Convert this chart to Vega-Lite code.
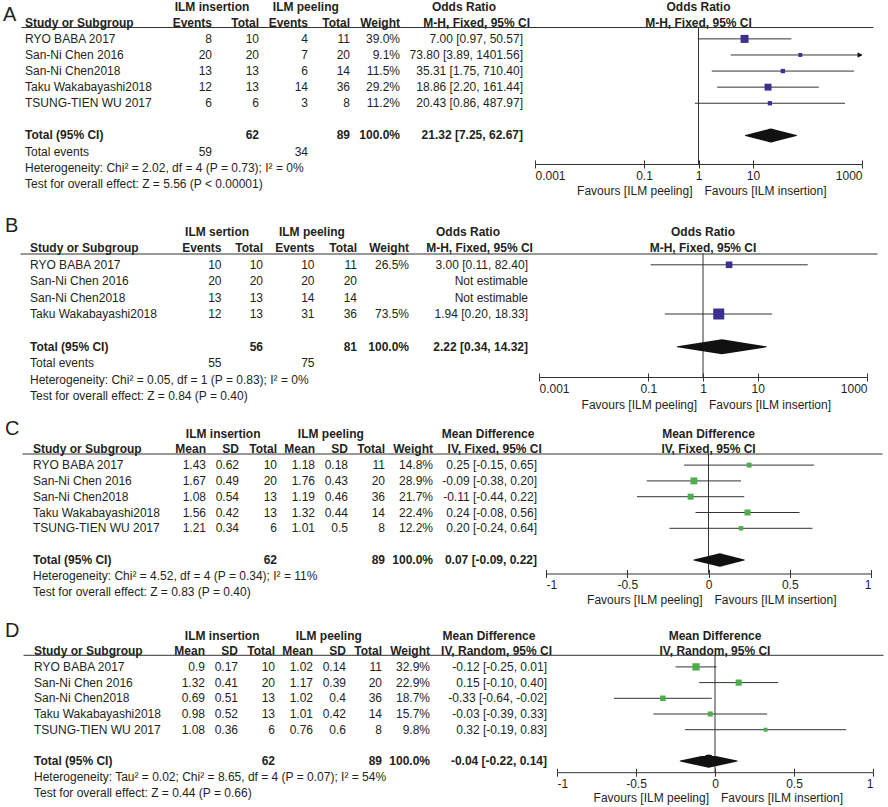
{
"$schema": "https://vega.github.io/schema/vega-lite/v6.json",
"padding": {"left": 0, "top": 0, "right": 0, "bottom": 8},
"background": "white",
"config": {
 "view": {"stroke": null},
 "text": {"font": "Liberation Sans", "fontSize": 12, "baseline": "middle", "color": "#231f20"},
 "axis": {"grid": false, "labelFont": "Liberation Sans", "labelFontSize": 12, "labelColor": "#231f20", "domainColor": "#333333", "tickColor": "#333333", "domainWidth": 1, "tickWidth": 1},
 "axisY": {"disable": true}
},
"datasets": {
 "A": [
  {"study": "RYO BABA 2017", "e1": 8, "n1": 10, "e2": 4, "n2": 11, "weight": 0.39, "est": 7.00, "lo": 0.97, "hi": 50.57, "ci": "7.00 [0.97, 50.57]"},
  {"study": "San-Ni Chen 2016", "e1": 20, "n1": 20, "e2": 7, "n2": 20, "weight": 0.091, "est": 73.80, "lo": 3.89, "hi": 1401.56, "ci": "73.80 [3.89, 1401.56]"},
  {"study": "San-Ni Chen2018", "e1": 13, "n1": 13, "e2": 6, "n2": 14, "weight": 0.115, "est": 35.31, "lo": 1.75, "hi": 710.40, "ci": "35.31 [1.75, 710.40]"},
  {"study": "Taku Wakabayashi2018", "e1": 12, "n1": 13, "e2": 14, "n2": 36, "weight": 0.292, "est": 18.86, "lo": 2.20, "hi": 161.44, "ci": "18.86 [2.20, 161.44]"},
  {"study": "TSUNG-TIEN WU 2017", "e1": 6, "n1": 6, "e2": 3, "n2": 8, "weight": 0.112, "est": 20.43, "lo": 0.86, "hi": 487.97, "ci": "20.43 [0.86, 487.97]"},
  {"study": "Total (95% CI)", "n1": 62, "n2": 89, "weight": 1.0, "est": 21.32, "lo": 7.25, "hi": 62.67, "ci": "21.32 [7.25, 62.67]"},
  {"study": "Total events", "e1": 59, "e2": 34},
  {"study": "Heterogeneity: Chi² = 2.02, df = 4 (P = 0.73); I² = 0%"},
  {"study": "Test for overall effect: Z = 5.56 (P < 0.00001)"}
 ],
 "B": [
  {"study": "RYO BABA 2017", "e1": 10, "n1": 10, "e2": 10, "n2": 11, "weight": 0.265, "est": 3.00, "lo": 0.11, "hi": 82.40, "ci": "3.00 [0.11, 82.40]"},
  {"study": "San-Ni Chen 2016", "e1": 20, "n1": 20, "e2": 20, "n2": 20, "ci": "Not estimable"},
  {"study": "San-Ni Chen2018", "e1": 13, "n1": 13, "e2": 14, "n2": 14, "ci": "Not estimable"},
  {"study": "Taku Wakabayashi2018", "e1": 12, "n1": 13, "e2": 31, "n2": 36, "weight": 0.735, "est": 1.94, "lo": 0.20, "hi": 18.33, "ci": "1.94 [0.20, 18.33]"},
  {"study": "Total (95% CI)", "n1": 56, "n2": 81, "weight": 1.0, "est": 2.22, "lo": 0.34, "hi": 14.32, "ci": "2.22 [0.34, 14.32]"},
  {"study": "Total events", "e1": 55, "e2": 75},
  {"study": "Heterogeneity: Chi² = 0.05, df = 1 (P = 0.83); I² = 0%"},
  {"study": "Test for overall effect: Z = 0.84 (P = 0.40)"}
 ],
 "C": [
  {"study": "RYO BABA 2017", "m1": 1.43, "sd1": 0.62, "n1": 10, "m2": 1.18, "sd2": 0.18, "n2": 11, "weight": 0.148, "est": 0.25, "lo": -0.15, "hi": 0.65, "ci": "0.25 [-0.15, 0.65]"},
  {"study": "San-Ni Chen 2016", "m1": 1.67, "sd1": 0.49, "n1": 20, "m2": 1.76, "sd2": 0.43, "n2": 20, "weight": 0.289, "est": -0.09, "lo": -0.38, "hi": 0.20, "ci": "-0.09 [-0.38, 0.20]"},
  {"study": "San-Ni Chen2018", "m1": 1.08, "sd1": 0.54, "n1": 13, "m2": 1.19, "sd2": 0.46, "n2": 36, "weight": 0.217, "est": -0.11, "lo": -0.44, "hi": 0.22, "ci": "-0.11 [-0.44, 0.22]"},
  {"study": "Taku Wakabayashi2018", "m1": 1.56, "sd1": 0.42, "n1": 13, "m2": 1.32, "sd2": 0.44, "n2": 14, "weight": 0.224, "est": 0.24, "lo": -0.08, "hi": 0.56, "ci": "0.24 [-0.08, 0.56]"},
  {"study": "TSUNG-TIEN WU 2017", "m1": 1.21, "sd1": 0.34, "n1": 6, "m2": 1.01, "sd2": 0.5, "n2": 8, "weight": 0.122, "est": 0.20, "lo": -0.24, "hi": 0.64, "ci": "0.20 [-0.24, 0.64]"},
  {"study": "Total (95% CI)", "n1": 62, "n2": 89, "weight": 1.0, "est": 0.07, "lo": -0.09, "hi": 0.22, "ci": "0.07 [-0.09, 0.22]"},
  {"study": "Heterogeneity: Chi² = 4.52, df = 4 (P = 0.34); I² = 11%"},
  {"study": "Test for overall effect: Z = 0.83 (P = 0.40)"}
 ],
 "D": [
  {"study": "RYO BABA 2017", "m1": 0.9, "sd1": 0.17, "n1": 10, "m2": 1.02, "sd2": 0.14, "n2": 11, "weight": 0.329, "est": -0.12, "lo": -0.25, "hi": 0.01, "ci": "-0.12 [-0.25, 0.01]"},
  {"study": "San-Ni Chen 2016", "m1": 1.32, "sd1": 0.41, "n1": 20, "m2": 1.17, "sd2": 0.39, "n2": 20, "weight": 0.229, "est": 0.15, "lo": -0.10, "hi": 0.40, "ci": "0.15 [-0.10, 0.40]"},
  {"study": "San-Ni Chen2018", "m1": 0.69, "sd1": 0.51, "n1": 13, "m2": 1.02, "sd2": 0.4, "n2": 36, "weight": 0.187, "est": -0.33, "lo": -0.64, "hi": -0.02, "ci": "-0.33 [-0.64, -0.02]"},
  {"study": "Taku Wakabayashi2018", "m1": 0.98, "sd1": 0.52, "n1": 13, "m2": 1.01, "sd2": 0.42, "n2": 14, "weight": 0.157, "est": -0.03, "lo": -0.39, "hi": 0.33, "ci": "-0.03 [-0.39, 0.33]"},
  {"study": "TSUNG-TIEN WU 2017", "m1": 1.08, "sd1": 0.36, "n1": 6, "m2": 0.76, "sd2": 0.6, "n2": 8, "weight": 0.098, "est": 0.32, "lo": -0.19, "hi": 0.83, "ci": "0.32 [-0.19, 0.83]"},
  {"study": "Total (95% CI)", "n1": 62, "n2": 89, "weight": 1.0, "est": -0.04, "lo": -0.22, "hi": 0.14, "ci": "-0.04 [-0.22, 0.14]"},
  {"study": "Heterogeneity: Tau² = 0.02; Chi² = 8.65, df = 4 (P = 0.07); I² = 54%"},
  {"study": "Test for overall effect: Z = 0.44 (P = 0.66)"}
 ]
},
"spacing": 89.5,
"bounds": "flush",
"vconcat": [
{
 "width": 888, "height": 137,
 "data": {"name": "A"},
 "resolve": {"scale": {"x": "independent"}},
 "layer": [
  {"layer": [
   {"mark": {"type": "text", "align": "left", "fontWeight": {"expr": "datum.study === 'Total (95% CI)' ? 'bold' : 'normal'"}},
    "encoding": {
     "x": {"datum": 0, "type": "quantitative", "scale": {"domain": [-1, 0, 1, 2, 3, 4, 5, 6, 7], "range": [21, 25, 212, 259, 308, 350, 400, 523, 873], "nice": false, "zero": false}, "axis": {"orient": "top", "labels": false, "ticks": false, "title": null}},
     "y": {"field": "study", "type": "nominal", "scale": {"type": "point", "domain": ["h1", "h2", "RYO BABA 2017", "San-Ni Chen 2016", "San-Ni Chen2018", "Taku Wakabayashi2018", "TSUNG-TIEN WU 2017", "gap", "Total (95% CI)", "Total events", "Heterogeneity: Chi² = 2.02, df = 4 (P = 0.73); I² = 0%", "Test for overall effect: Z = 5.56 (P < 0.00001)"], "range": [-20.3, 156.7], "padding": 0}},
     "text": {"field": "study", "type": "nominal"}}},
   {"transform": [{"filter": {"field": "e1", "valid": true}}], "mark": {"type": "text", "align": "right"}, "encoding": {"x": {"datum": 1, "type": "quantitative"}, "y": {"field": "study", "type": "nominal"}, "text": {"field": "e1", "type": "quantitative"}}},
   {"transform": [{"filter": {"field": "n1", "valid": true}}], "mark": {"type": "text", "align": "right", "fontWeight": {"expr": "datum.study === 'Total (95% CI)' ? 'bold' : 'normal'"}}, "encoding": {"x": {"datum": 2, "type": "quantitative"}, "y": {"field": "study", "type": "nominal"}, "text": {"field": "n1", "type": "quantitative"}}},
   {"transform": [{"filter": {"field": "e2", "valid": true}}], "mark": {"type": "text", "align": "right"}, "encoding": {"x": {"datum": 3, "type": "quantitative"}, "y": {"field": "study", "type": "nominal"}, "text": {"field": "e2", "type": "quantitative"}}},
   {"transform": [{"filter": {"field": "n2", "valid": true}}], "mark": {"type": "text", "align": "right", "fontWeight": {"expr": "datum.study === 'Total (95% CI)' ? 'bold' : 'normal'"}}, "encoding": {"x": {"datum": 4, "type": "quantitative"}, "y": {"field": "study", "type": "nominal"}, "text": {"field": "n2", "type": "quantitative"}}},
   {"transform": [{"filter": {"field": "weight", "valid": true}}], "mark": {"type": "text", "align": "right", "fontWeight": {"expr": "datum.study === 'Total (95% CI)' ? 'bold' : 'normal'"}}, "encoding": {"x": {"datum": 5, "type": "quantitative"}, "y": {"field": "study", "type": "nominal"}, "text": {"field": "weight", "type": "quantitative", "format": ".1%"}}},
   {"transform": [{"filter": "isValid(datum.ci)"}], "mark": {"type": "text", "align": "right", "fontWeight": {"expr": "datum.study === 'Total (95% CI)' ? 'bold' : 'normal'"}}, "encoding": {"x": {"datum": 6, "type": "quantitative"}, "y": {"field": "study", "type": "nominal"}, "text": {"field": "ci", "type": "nominal"}}},
   {"data": {"values": [{}]}, "mark": {"type": "text", "text": "A", "align": "left", "font": "Liberation Sans Narrow, Liberation Sans", "fontSize": 20, "dx": -18, "dy": 7.8}, "encoding": {"x": {"datum": -1, "type": "quantitative"}, "y": {"datum": "h1", "type": "nominal"}}},
   {"data": {"values": [{}]}, "mark": {"type": "text", "text": "ILM insertion", "fontWeight": "bold", "align": "center"}, "encoding": {"x": {"datum": 1, "type": "quantitative"}, "y": {"datum": "h1", "type": "nominal"}}},
   {"data": {"values": [{}]}, "mark": {"type": "text", "text": "ILM peeling", "fontWeight": "bold", "align": "center"}, "encoding": {"x": {"datum": 2.955, "type": "quantitative"}, "y": {"datum": "h1", "type": "nominal"}}},
   {"data": {"values": [{}]}, "mark": {"type": "text", "text": "Odds Ratio", "fontWeight": "bold", "align": "center"}, "encoding": {"x": {"datum": 5.52, "type": "quantitative"}, "y": {"datum": "h1", "type": "nominal"}}},
   {"data": {"values": [{}]}, "mark": {"type": "text", "text": "Study or Subgroup", "fontWeight": "bold", "align": "left"}, "encoding": {"x": {"datum": 0, "type": "quantitative"}, "y": {"datum": "h2", "type": "nominal"}}},
   {"data": {"values": [{}]}, "mark": {"type": "text", "text": "Events", "fontWeight": "bold", "align": "right"}, "encoding": {"x": {"datum": 1, "type": "quantitative"}, "y": {"datum": "h2", "type": "nominal"}}},
   {"data": {"values": [{}]}, "mark": {"type": "text", "text": "Total", "fontWeight": "bold", "align": "right"}, "encoding": {"x": {"datum": 2, "type": "quantitative"}, "y": {"datum": "h2", "type": "nominal"}}},
   {"data": {"values": [{}]}, "mark": {"type": "text", "text": "Events", "fontWeight": "bold", "align": "right"}, "encoding": {"x": {"datum": 3, "type": "quantitative"}, "y": {"datum": "h2", "type": "nominal"}}},
   {"data": {"values": [{}]}, "mark": {"type": "text", "text": "Total", "fontWeight": "bold", "align": "right"}, "encoding": {"x": {"datum": 4, "type": "quantitative"}, "y": {"datum": "h2", "type": "nominal"}}},
   {"data": {"values": [{}]}, "mark": {"type": "text", "text": "Weight", "fontWeight": "bold", "align": "right"}, "encoding": {"x": {"datum": 5, "type": "quantitative"}, "y": {"datum": "h2", "type": "nominal"}}},
   {"data": {"values": [{}]}, "mark": {"type": "text", "text": "M-H, Fixed, 95% CI", "fontWeight": "bold", "align": "right"}, "encoding": {"x": {"datum": 6.02, "type": "quantitative"}, "y": {"datum": "h2", "type": "nominal"}}}
  ]},
  {"layer": [
   {"transform": [{"filter": "datum.study === 'Total (95% CI)'"}], "mark": {"type": "rule", "color": "#333333", "strokeWidth": 1}, "encoding": {"x": {"datum": 1, "type": "quantitative", "scale": {"type": "log", "domain": [0.001, 1000], "range": [535, 862], "clamp": true, "nice": false}, "axis": {"orient": "bottom", "values": [0.001, 0.1, 1, 10, 1000], "labelExpr": "'' + datum.value", "labelFlush": true, "tickSize": 4, "labelPadding": 2, "title": null}}}},
   {"transform": [{"filter": "isValid(datum.est) && datum.study !== 'Total (95% CI)'"}], "mark": {"type": "rule", "color": "#333333", "strokeWidth": 1}, "encoding": {"x": {"field": "lo", "type": "quantitative"}, "x2": {"field": "hi"}, "y": {"field": "study", "type": "nominal"}}},
   {"transform": [{"filter": "isValid(datum.est) && datum.study !== 'Total (95% CI)'"}], "mark": {"type": "point", "shape": "square", "filled": true, "color": "#3b2f8f", "opacity": 1}, "encoding": {"x": {"field": "est", "type": "quantitative"}, "y": {"field": "study", "type": "nominal"}, "size": {"field": "weight", "type": "quantitative", "scale": {"domain": [0, 1], "range": [0, 164]}, "legend": null}}},
   {"transform": [{"filter": "datum.hi > 1000"}], "mark": {"type": "point", "shape": "triangle-right", "filled": true, "color": "#111111", "opacity": 1, "size": 30, "xOffset": -2}, "encoding": {"x": {"field": "hi", "type": "quantitative"}, "y": {"field": "study", "type": "nominal"}}},
   {"transform": [{"filter": "datum.study === 'Total (95% CI)'"}, {"fold": ["lo", "est", "hi"]}], "mark": {"type": "trail", "color": "#111111"}, "encoding": {"x": {"field": "value", "type": "quantitative"}, "y": {"field": "study", "type": "nominal"}, "order": {"field": "value", "type": "quantitative"}, "size": {"condition": {"test": "datum.key === 'est'", "value": 14}, "value": 0}}},
   {"data": {"values": [{}]}, "mark": {"type": "text", "text": "Odds Ratio", "fontWeight": "bold", "align": "center"}, "encoding": {"x": {"datum": 1, "type": "quantitative"}, "y": {"datum": "h1", "type": "nominal"}}},
   {"data": {"values": [{}]}, "mark": {"type": "text", "text": "M-H, Fixed, 95% CI", "fontWeight": "bold", "align": "center"}, "encoding": {"x": {"datum": 1, "type": "quantitative"}, "y": {"datum": "h2", "type": "nominal"}}}
  ]},
  {"data": {"values": [{}]}, "layer": [
   {"mark": {"type": "text", "text": "Favours [ILM peeling]", "align": "right", "dx": -6, "dy": 7.3}, "encoding": {"x": {"datum": 1, "type": "quantitative", "scale": {"type": "log", "domain": [0.001, 1000], "range": [535, 862], "nice": false}, "axis": {"orient": "bottom", "values": [0.001, 0.1, 1, 10, 1000], "labels": false, "domain": false, "tickSize": -4, "title": null}}, "y": {"datum": "Test for overall effect: Z = 5.56 (P < 0.00001)", "type": "nominal"}}},
   {"mark": {"type": "text", "text": "Favours [ILM insertion]", "align": "left", "dx": 6, "dy": 7.3}, "encoding": {"x": {"datum": 1, "type": "quantitative"}, "y": {"datum": "Test for overall effect: Z = 5.56 (P < 0.00001)", "type": "nominal"}}}
  ]}
 ]
},
{
 "spacing": 76,
 "bounds": "flush",
 "vconcat": [
 {
  "width": 888, "height": 123.5,
  "data": {"name": "B"},
  "resolve": {"scale": {"x": "independent"}},
  "layer": [
   {"layer": [
    {"mark": {"type": "text", "align": "left", "fontWeight": {"expr": "datum.study === 'Total (95% CI)' ? 'bold' : 'normal'"}},
     "encoding": {
      "x": {"datum": 0, "type": "quantitative", "scale": {"domain": [-1, 0, 1, 2, 3, 4, 5, 6, 7], "range": [20, 30, 221.5, 263, 314.5, 357, 409, 528, 877], "nice": false, "zero": false}, "axis": {"orient": "top", "labels": false, "ticks": false, "title": null}},
      "y": {"field": "study", "type": "nominal", "scale": {"type": "point", "domain": ["h1", "h2", "RYO BABA 2017", "San-Ni Chen 2016", "San-Ni Chen2018", "Taku Wakabayashi2018", "gap", "Total (95% CI)", "Total events", "Heterogeneity: Chi² = 0.05, df = 1 (P = 0.83); I² = 0%", "Test for overall effect: Z = 0.84 (P = 0.40)"], "range": [-21.5, 142.5], "padding": 0}},
      "text": {"field": "study", "type": "nominal"}}},
    {"transform": [{"filter": {"field": "e1", "valid": true}}], "mark": {"type": "text", "align": "right"}, "encoding": {"x": {"datum": 1, "type": "quantitative"}, "y": {"field": "study", "type": "nominal"}, "text": {"field": "e1", "type": "quantitative"}}},
    {"transform": [{"filter": {"field": "n1", "valid": true}}], "mark": {"type": "text", "align": "right", "fontWeight": {"expr": "datum.study === 'Total (95% CI)' ? 'bold' : 'normal'"}}, "encoding": {"x": {"datum": 2, "type": "quantitative"}, "y": {"field": "study", "type": "nominal"}, "text": {"field": "n1", "type": "quantitative"}}},
    {"transform": [{"filter": {"field": "e2", "valid": true}}], "mark": {"type": "text", "align": "right"}, "encoding": {"x": {"datum": 3, "type": "quantitative"}, "y": {"field": "study", "type": "nominal"}, "text": {"field": "e2", "type": "quantitative"}}},
    {"transform": [{"filter": {"field": "n2", "valid": true}}], "mark": {"type": "text", "align": "right", "fontWeight": {"expr": "datum.study === 'Total (95% CI)' ? 'bold' : 'normal'"}}, "encoding": {"x": {"datum": 4, "type": "quantitative"}, "y": {"field": "study", "type": "nominal"}, "text": {"field": "n2", "type": "quantitative"}}},
    {"transform": [{"filter": {"field": "weight", "valid": true}}], "mark": {"type": "text", "align": "right", "fontWeight": {"expr": "datum.study === 'Total (95% CI)' ? 'bold' : 'normal'"}}, "encoding": {"x": {"datum": 5, "type": "quantitative"}, "y": {"field": "study", "type": "nominal"}, "text": {"field": "weight", "type": "quantitative", "format": ".1%"}}},
    {"transform": [{"filter": "isValid(datum.ci)"}], "mark": {"type": "text", "align": "right", "fontWeight": {"expr": "datum.study === 'Total (95% CI)' ? 'bold' : 'normal'"}}, "encoding": {"x": {"datum": 6, "type": "quantitative"}, "y": {"field": "study", "type": "nominal"}, "text": {"field": "ci", "type": "nominal"}}},
    {"data": {"values": [{}]}, "mark": {"type": "text", "text": "B", "align": "left", "font": "Liberation Sans Narrow, Liberation Sans", "fontSize": 20, "dx": -15, "dy": -6.5}, "encoding": {"x": {"datum": -1, "type": "quantitative"}, "y": {"datum": "h1", "type": "nominal"}}},
    {"data": {"values": [{}]}, "mark": {"type": "text", "text": "ILM sertion", "fontWeight": "bold", "align": "center"}, "encoding": {"x": {"datum": 0.977, "type": "quantitative"}, "y": {"datum": "h1", "type": "nominal"}}},
    {"data": {"values": [{}]}, "mark": {"type": "text", "text": "ILM peeling", "fontWeight": "bold", "align": "center"}, "encoding": {"x": {"datum": 2.95, "type": "quantitative"}, "y": {"datum": "h1", "type": "nominal"}}},
    {"data": {"values": [{}]}, "mark": {"type": "text", "text": "Odds Ratio", "fontWeight": "bold", "align": "center"}, "encoding": {"x": {"datum": 5.496, "type": "quantitative"}, "y": {"datum": "h1", "type": "nominal"}}},
    {"data": {"values": [{}]}, "mark": {"type": "text", "text": "Study or Subgroup", "fontWeight": "bold", "align": "left"}, "encoding": {"x": {"datum": 0, "type": "quantitative"}, "y": {"datum": "h2", "type": "nominal"}}},
    {"data": {"values": [{}]}, "mark": {"type": "text", "text": "Events", "fontWeight": "bold", "align": "right"}, "encoding": {"x": {"datum": 1, "type": "quantitative"}, "y": {"datum": "h2", "type": "nominal"}}},
    {"data": {"values": [{}]}, "mark": {"type": "text", "text": "Total", "fontWeight": "bold", "align": "right"}, "encoding": {"x": {"datum": 2, "type": "quantitative"}, "y": {"datum": "h2", "type": "nominal"}}},
    {"data": {"values": [{}]}, "mark": {"type": "text", "text": "Events", "fontWeight": "bold", "align": "right"}, "encoding": {"x": {"datum": 3, "type": "quantitative"}, "y": {"datum": "h2", "type": "nominal"}}},
    {"data": {"values": [{}]}, "mark": {"type": "text", "text": "Total", "fontWeight": "bold", "align": "right"}, "encoding": {"x": {"datum": 4, "type": "quantitative"}, "y": {"datum": "h2", "type": "nominal"}}},
    {"data": {"values": [{}]}, "mark": {"type": "text", "text": "Weight", "fontWeight": "bold", "align": "right"}, "encoding": {"x": {"datum": 5, "type": "quantitative"}, "y": {"datum": "h2", "type": "nominal"}}},
    {"data": {"values": [{}]}, "mark": {"type": "text", "text": "M-H, Fixed, 95% CI", "fontWeight": "bold", "align": "right"}, "encoding": {"x": {"datum": 6.014, "type": "quantitative"}, "y": {"datum": "h2", "type": "nominal"}}}
   ]},
   {"layer": [
    {"transform": [{"filter": "datum.study === 'Total (95% CI)'"}], "mark": {"type": "rule", "color": "#333333", "strokeWidth": 1}, "encoding": {"x": {"datum": 1, "type": "quantitative", "scale": {"type": "log", "domain": [0.001, 1000], "range": [539, 867], "clamp": true, "nice": false}, "axis": {"orient": "bottom", "values": [0.001, 0.1, 1, 10, 1000], "labelExpr": "'' + datum.value", "labelFlush": true, "tickSize": 4, "labelPadding": 2, "title": null}}}},
    {"transform": [{"filter": "isValid(datum.est) && datum.study !== 'Total (95% CI)'"}], "mark": {"type": "rule", "color": "#333333", "strokeWidth": 1}, "encoding": {"x": {"field": "lo", "type": "quantitative"}, "x2": {"field": "hi"}, "y": {"field": "study", "type": "nominal"}}},
    {"transform": [{"filter": "isValid(datum.est) && datum.study !== 'Total (95% CI)'"}], "mark": {"type": "point", "shape": "square", "filled": true, "color": "#3b2f8f", "opacity": 1}, "encoding": {"x": {"field": "est", "type": "quantitative"}, "y": {"field": "study", "type": "nominal"}, "size": {"field": "weight", "type": "quantitative", "scale": {"domain": [0, 1], "range": [0, 250]}, "legend": null}}},
    {"transform": [{"filter": "datum.study === 'Total (95% CI)'"}, {"fold": ["lo", "est", "hi"]}], "mark": {"type": "trail", "color": "#111111"}, "encoding": {"x": {"field": "value", "type": "quantitative"}, "y": {"field": "study", "type": "nominal"}, "order": {"field": "value", "type": "quantitative"}, "size": {"condition": {"test": "datum.key === 'est'", "value": 15}, "value": 0}}},
    {"data": {"values": [{}]}, "mark": {"type": "text", "text": "Odds Ratio", "fontWeight": "bold", "align": "center"}, "encoding": {"x": {"datum": 1, "type": "quantitative"}, "y": {"datum": "h1", "type": "nominal"}}},
    {"data": {"values": [{}]}, "mark": {"type": "text", "text": "M-H, Fixed, 95% CI", "fontWeight": "bold", "align": "center"}, "encoding": {"x": {"datum": 1, "type": "quantitative"}, "y": {"datum": "h2", "type": "nominal"}}}
   ]},
   {"data": {"values": [{}]}, "layer": [
    {"mark": {"type": "text", "text": "Favours [ILM peeling]", "align": "right", "dx": -6, "dy": 9}, "encoding": {"x": {"datum": 1, "type": "quantitative", "scale": {"type": "log", "domain": [0.001, 1000], "range": [539, 867], "nice": false}, "axis": {"orient": "bottom", "values": [0.001, 0.1, 1, 10, 1000], "labels": false, "domain": false, "tickSize": -4, "title": null}}, "y": {"datum": "Test for overall effect: Z = 0.84 (P = 0.40)", "type": "nominal"}}},
    {"mark": {"type": "text", "text": "Favours [ILM insertion]", "align": "left", "dx": 6, "dy": 9}, "encoding": {"x": {"datum": 1, "type": "quantitative"}, "y": {"datum": "Test for overall effect: Z = 0.84 (P = 0.40)", "type": "nominal"}}}
   ]}
  ]
 },
 {
  "spacing": 81.3,
  "bounds": "flush",
  "vconcat": [
  {
   "width": 888, "height": 120,
   "data": {"name": "C"},
   "resolve": {"scale": {"x": "independent"}},
   "layer": [
    {"layer": [
     {"mark": {"type": "text", "align": "left", "fontWeight": {"expr": "datum.study === 'Total (95% CI)' ? 'bold' : 'normal'"}},
      "encoding": {
       "x": {"datum": 0, "type": "quantitative", "scale": {"domain": [-1, 0, 1, 2, 3, 4, 5, 6, 7, 8, 9], "range": [22, 33, 206, 239, 277, 315, 348, 385, 433, 537, 882], "nice": false, "zero": false}, "axis": {"orient": "top", "labels": false, "ticks": false, "title": null}},
       "y": {"field": "study", "type": "nominal", "scale": {"type": "point", "domain": ["h1", "h2", "RYO BABA 2017", "San-Ni Chen 2016", "San-Ni Chen2018", "Taku Wakabayashi2018", "TSUNG-TIEN WU 2017", "gap", "Total (95% CI)", "Heterogeneity: Chi² = 4.52, df = 4 (P = 0.34); I² = 11%", "Test for overall effect: Z = 0.83 (P = 0.40)"], "range": [-20, 138], "padding": 0}},
       "text": {"field": "study", "type": "nominal"}}},
     {"transform": [{"filter": {"field": "m1", "valid": true}}], "mark": {"type": "text", "align": "right"}, "encoding": {"x": {"datum": 1, "type": "quantitative"}, "y": {"field": "study", "type": "nominal"}, "text": {"field": "m1", "type": "quantitative"}}},
     {"transform": [{"filter": {"field": "sd1", "valid": true}}], "mark": {"type": "text", "align": "right"}, "encoding": {"x": {"datum": 2, "type": "quantitative"}, "y": {"field": "study", "type": "nominal"}, "text": {"field": "sd1", "type": "quantitative"}}},
     {"transform": [{"filter": {"field": "n1", "valid": true}}], "mark": {"type": "text", "align": "right", "fontWeight": {"expr": "datum.study === 'Total (95% CI)' ? 'bold' : 'normal'"}}, "encoding": {"x": {"datum": 3, "type": "quantitative"}, "y": {"field": "study", "type": "nominal"}, "text": {"field": "n1", "type": "quantitative"}}},
     {"transform": [{"filter": {"field": "m2", "valid": true}}], "mark": {"type": "text", "align": "right"}, "encoding": {"x": {"datum": 4, "type": "quantitative"}, "y": {"field": "study", "type": "nominal"}, "text": {"field": "m2", "type": "quantitative"}}},
     {"transform": [{"filter": {"field": "sd2", "valid": true}}], "mark": {"type": "text", "align": "right"}, "encoding": {"x": {"datum": 5, "type": "quantitative"}, "y": {"field": "study", "type": "nominal"}, "text": {"field": "sd2", "type": "quantitative"}}},
     {"transform": [{"filter": {"field": "n2", "valid": true}}], "mark": {"type": "text", "align": "right", "fontWeight": {"expr": "datum.study === 'Total (95% CI)' ? 'bold' : 'normal'"}}, "encoding": {"x": {"datum": 6, "type": "quantitative"}, "y": {"field": "study", "type": "nominal"}, "text": {"field": "n2", "type": "quantitative"}}},
     {"transform": [{"filter": {"field": "weight", "valid": true}}], "mark": {"type": "text", "align": "right", "fontWeight": {"expr": "datum.study === 'Total (95% CI)' ? 'bold' : 'normal'"}}, "encoding": {"x": {"datum": 7, "type": "quantitative"}, "y": {"field": "study", "type": "nominal"}, "text": {"field": "weight", "type": "quantitative", "format": ".1%"}}},
     {"transform": [{"filter": "isValid(datum.ci)"}], "mark": {"type": "text", "align": "right", "fontWeight": {"expr": "datum.study === 'Total (95% CI)' ? 'bold' : 'normal'"}}, "encoding": {"x": {"datum": 8, "type": "quantitative"}, "y": {"field": "study", "type": "nominal"}, "text": {"field": "ci", "type": "nominal"}}},
     {"data": {"values": [{}]}, "mark": {"type": "text", "text": "C", "align": "left", "font": "Liberation Sans Narrow, Liberation Sans", "fontSize": 20, "dx": -17, "dy": -4.5}, "encoding": {"x": {"datum": -1, "type": "quantitative"}, "y": {"datum": "h1", "type": "nominal"}}},
     {"data": {"values": [{}]}, "mark": {"type": "text", "text": "ILM insertion", "fontWeight": "bold", "align": "center"}, "encoding": {"x": {"datum": 1.52, "type": "quantitative"}, "y": {"datum": "h1", "type": "nominal"}}},
     {"data": {"values": [{}]}, "mark": {"type": "text", "text": "ILM peeling", "fontWeight": "bold", "align": "center"}, "encoding": {"x": {"datum": 4.48, "type": "quantitative"}, "y": {"datum": "h1", "type": "nominal"}}},
     {"data": {"values": [{}]}, "mark": {"type": "text", "text": "Mean Difference", "fontWeight": "bold", "align": "center"}, "encoding": {"x": {"datum": 7.53, "type": "quantitative"}, "y": {"datum": "h1", "type": "nominal"}}},
     {"data": {"values": [{}]}, "mark": {"type": "text", "text": "Study or Subgroup", "fontWeight": "bold", "align": "left"}, "encoding": {"x": {"datum": 0, "type": "quantitative"}, "y": {"datum": "h2", "type": "nominal"}}},
     {"data": {"values": [{}]}, "mark": {"type": "text", "text": "Mean", "fontWeight": "bold", "align": "right"}, "encoding": {"x": {"datum": 1, "type": "quantitative"}, "y": {"datum": "h2", "type": "nominal"}}},
     {"data": {"values": [{}]}, "mark": {"type": "text", "text": "SD", "fontWeight": "bold", "align": "right"}, "encoding": {"x": {"datum": 2, "type": "quantitative"}, "y": {"datum": "h2", "type": "nominal"}}},
     {"data": {"values": [{}]}, "mark": {"type": "text", "text": "Total", "fontWeight": "bold", "align": "right"}, "encoding": {"x": {"datum": 3, "type": "quantitative"}, "y": {"datum": "h2", "type": "nominal"}}},
     {"data": {"values": [{}]}, "mark": {"type": "text", "text": "Mean", "fontWeight": "bold", "align": "right"}, "encoding": {"x": {"datum": 4, "type": "quantitative"}, "y": {"datum": "h2", "type": "nominal"}}},
     {"data": {"values": [{}]}, "mark": {"type": "text", "text": "SD", "fontWeight": "bold", "align": "right"}, "encoding": {"x": {"datum": 5, "type": "quantitative"}, "y": {"datum": "h2", "type": "nominal"}}},
     {"data": {"values": [{}]}, "mark": {"type": "text", "text": "Total", "fontWeight": "bold", "align": "right"}, "encoding": {"x": {"datum": 6, "type": "quantitative"}, "y": {"datum": "h2", "type": "nominal"}}},
     {"data": {"values": [{}]}, "mark": {"type": "text", "text": "Weight", "fontWeight": "bold", "align": "right"}, "encoding": {"x": {"datum": 7, "type": "quantitative"}, "y": {"datum": "h2", "type": "nominal"}}},
     {"data": {"values": [{}]}, "mark": {"type": "text", "text": "IV, Fixed, 95% CI", "fontWeight": "bold", "align": "right"}, "encoding": {"x": {"datum": 8.014, "type": "quantitative"}, "y": {"datum": "h2", "type": "nominal"}}}
    ]},
    {"layer": [
     {"transform": [{"filter": "datum.study === 'Total (95% CI)'"}], "mark": {"type": "rule", "color": "#333333", "strokeWidth": 1}, "encoding": {"x": {"datum": 0, "type": "quantitative", "scale": {"domain": [-1, 1], "range": [546, 871], "clamp": true, "nice": false, "zero": false}, "axis": {"orient": "bottom", "values": [-1, -0.5, 0, 0.5, 1], "labelExpr": "'' + datum.value", "labelFlush": true, "tickSize": 4, "labelPadding": 2, "title": null}}}},
     {"transform": [{"filter": "isValid(datum.est) && datum.study !== 'Total (95% CI)'"}], "mark": {"type": "rule", "color": "#333333", "strokeWidth": 1}, "encoding": {"x": {"field": "lo", "type": "quantitative"}, "x2": {"field": "hi"}, "y": {"field": "study", "type": "nominal"}}},
     {"transform": [{"filter": "isValid(datum.est) && datum.study !== 'Total (95% CI)'"}], "mark": {"type": "point", "shape": "square", "filled": true, "color": "#4cae4c", "opacity": 1}, "encoding": {"x": {"field": "est", "type": "quantitative"}, "y": {"field": "study", "type": "nominal"}, "size": {"field": "weight", "type": "quantitative", "scale": {"domain": [0, 1], "range": [0, 120]}, "legend": null}}},
     {"transform": [{"filter": "datum.study === 'Total (95% CI)'"}, {"fold": ["lo", "est", "hi"]}], "mark": {"type": "trail", "color": "#111111"}, "encoding": {"x": {"field": "value", "type": "quantitative"}, "y": {"field": "study", "type": "nominal"}, "order": {"field": "value", "type": "quantitative"}, "size": {"condition": {"test": "datum.key === 'est'", "value": 13.5}, "value": 0}}},
     {"data": {"values": [{}]}, "mark": {"type": "text", "text": "Mean Difference", "fontWeight": "bold", "align": "center"}, "encoding": {"x": {"datum": 0, "type": "quantitative"}, "y": {"datum": "h1", "type": "nominal"}}},
     {"data": {"values": [{}]}, "mark": {"type": "text", "text": "IV, Fixed, 95% CI", "fontWeight": "bold", "align": "center"}, "encoding": {"x": {"datum": 0, "type": "quantitative"}, "y": {"datum": "h2", "type": "nominal"}}}
    ]},
    {"data": {"values": [{}]}, "layer": [
     {"mark": {"type": "text", "text": "Favours [ILM peeling]", "align": "right", "dx": -6, "dy": 8}, "encoding": {"x": {"datum": 0, "type": "quantitative", "scale": {"domain": [-1, 1], "range": [546, 871], "nice": false, "zero": false}, "axis": {"orient": "bottom", "values": [-1, -0.5, 0, 0.5, 1], "labels": false, "domain": false, "tickSize": -4, "title": null}}, "y": {"datum": "Test for overall effect: Z = 0.83 (P = 0.40)", "type": "nominal"}}},
     {"mark": {"type": "text", "text": "Favours [ILM insertion]", "align": "left", "dx": 6, "dy": 8}, "encoding": {"x": {"datum": 0, "type": "quantitative"}, "y": {"datum": "Test for overall effect: Z = 0.83 (P = 0.40)", "type": "nominal"}}}
    ]}
   ]
  },
  {
   "width": 888, "height": 117.4,
   "data": {"name": "D"},
   "resolve": {"scale": {"x": "independent"}},
   "layer": [
    {"layer": [
     {"mark": {"type": "text", "align": "left", "fontWeight": {"expr": "datum.study === 'Total (95% CI)' ? 'bold' : 'normal'"}},
      "encoding": {
       "x": {"datum": 0, "type": "quantitative", "scale": {"domain": [-1, 0, 1, 2, 3, 4, 5, 6, 7, 8, 9], "range": [23, 34, 205, 238, 275, 313, 346, 382, 430, 547, 883], "nice": false, "zero": false}, "axis": {"orient": "top", "labels": false, "ticks": false, "title": null}},
       "y": {"field": "study", "type": "nominal", "scale": {"type": "point", "domain": ["h1", "h2", "RYO BABA 2017", "San-Ni Chen 2016", "San-Ni Chen2018", "Taku Wakabayashi2018", "TSUNG-TIEN WU 2017", "gap", "Total (95% CI)", "Heterogeneity: Tau² = 0.02; Chi² = 8.65, df = 4 (P = 0.07); I² = 54%", "Test for overall effect: Z = 0.44 (P = 0.66)"], "range": [-19.3, 137.7], "padding": 0}},
       "text": {"field": "study", "type": "nominal"}}},
     {"transform": [{"filter": {"field": "m1", "valid": true}}], "mark": {"type": "text", "align": "right"}, "encoding": {"x": {"datum": 1, "type": "quantitative"}, "y": {"field": "study", "type": "nominal"}, "text": {"field": "m1", "type": "quantitative"}}},
     {"transform": [{"filter": {"field": "sd1", "valid": true}}], "mark": {"type": "text", "align": "right"}, "encoding": {"x": {"datum": 2, "type": "quantitative"}, "y": {"field": "study", "type": "nominal"}, "text": {"field": "sd1", "type": "quantitative"}}},
     {"transform": [{"filter": {"field": "n1", "valid": true}}], "mark": {"type": "text", "align": "right", "fontWeight": {"expr": "datum.study === 'Total (95% CI)' ? 'bold' : 'normal'"}}, "encoding": {"x": {"datum": 3, "type": "quantitative"}, "y": {"field": "study", "type": "nominal"}, "text": {"field": "n1", "type": "quantitative"}}},
     {"transform": [{"filter": {"field": "m2", "valid": true}}], "mark": {"type": "text", "align": "right"}, "encoding": {"x": {"datum": 4, "type": "quantitative"}, "y": {"field": "study", "type": "nominal"}, "text": {"field": "m2", "type": "quantitative"}}},
     {"transform": [{"filter": {"field": "sd2", "valid": true}}], "mark": {"type": "text", "align": "right"}, "encoding": {"x": {"datum": 5, "type": "quantitative"}, "y": {"field": "study", "type": "nominal"}, "text": {"field": "sd2", "type": "quantitative"}}},
     {"transform": [{"filter": {"field": "n2", "valid": true}}], "mark": {"type": "text", "align": "right", "fontWeight": {"expr": "datum.study === 'Total (95% CI)' ? 'bold' : 'normal'"}}, "encoding": {"x": {"datum": 6, "type": "quantitative"}, "y": {"field": "study", "type": "nominal"}, "text": {"field": "n2", "type": "quantitative"}}},
     {"transform": [{"filter": {"field": "weight", "valid": true}}], "mark": {"type": "text", "align": "right", "fontWeight": {"expr": "datum.study === 'Total (95% CI)' ? 'bold' : 'normal'"}}, "encoding": {"x": {"datum": 7, "type": "quantitative"}, "y": {"field": "study", "type": "nominal"}, "text": {"field": "weight", "type": "quantitative", "format": ".1%"}}},
     {"transform": [{"filter": "isValid(datum.ci)"}], "mark": {"type": "text", "align": "right", "fontWeight": {"expr": "datum.study === 'Total (95% CI)' ? 'bold' : 'normal'"}}, "encoding": {"x": {"datum": 8, "type": "quantitative"}, "y": {"field": "study", "type": "nominal"}, "text": {"field": "ci", "type": "nominal"}}},
     {"data": {"values": [{}]}, "mark": {"type": "text", "text": "D", "align": "left", "font": "Liberation Sans Narrow, Liberation Sans", "fontSize": 20, "dx": -18, "dy": -5}, "encoding": {"x": {"datum": -1, "type": "quantitative"}, "y": {"datum": "h1", "type": "nominal"}}},
     {"data": {"values": [{}]}, "mark": {"type": "text", "text": "ILM insertion", "fontWeight": "bold", "align": "center"}, "encoding": {"x": {"datum": 1.52, "type": "quantitative"}, "y": {"datum": "h1", "type": "nominal"}}},
     {"data": {"values": [{}]}, "mark": {"type": "text", "text": "ILM peeling", "fontWeight": "bold", "align": "center"}, "encoding": {"x": {"datum": 4.48, "type": "quantitative"}, "y": {"datum": "h1", "type": "nominal"}}},
     {"data": {"values": [{}]}, "mark": {"type": "text", "text": "Mean Difference", "fontWeight": "bold", "align": "center"}, "encoding": {"x": {"datum": 7.504, "type": "quantitative"}, "y": {"datum": "h1", "type": "nominal"}}},
     {"data": {"values": [{}]}, "mark": {"type": "text", "text": "Study or Subgroup", "fontWeight": "bold", "align": "left"}, "encoding": {"x": {"datum": 0, "type": "quantitative"}, "y": {"datum": "h2", "type": "nominal"}}},
     {"data": {"values": [{}]}, "mark": {"type": "text", "text": "Mean", "fontWeight": "bold", "align": "right"}, "encoding": {"x": {"datum": 1, "type": "quantitative"}, "y": {"datum": "h2", "type": "nominal"}}},
     {"data": {"values": [{}]}, "mark": {"type": "text", "text": "SD", "fontWeight": "bold", "align": "right"}, "encoding": {"x": {"datum": 2, "type": "quantitative"}, "y": {"datum": "h2", "type": "nominal"}}},
     {"data": {"values": [{}]}, "mark": {"type": "text", "text": "Total", "fontWeight": "bold", "align": "right"}, "encoding": {"x": {"datum": 3, "type": "quantitative"}, "y": {"datum": "h2", "type": "nominal"}}},
     {"data": {"values": [{}]}, "mark": {"type": "text", "text": "Mean", "fontWeight": "bold", "align": "right"}, "encoding": {"x": {"datum": 4, "type": "quantitative"}, "y": {"datum": "h2", "type": "nominal"}}},
     {"data": {"values": [{}]}, "mark": {"type": "text", "text": "SD", "fontWeight": "bold", "align": "right"}, "encoding": {"x": {"datum": 5, "type": "quantitative"}, "y": {"datum": "h2", "type": "nominal"}}},
     {"data": {"values": [{}]}, "mark": {"type": "text", "text": "Total", "fontWeight": "bold", "align": "right"}, "encoding": {"x": {"datum": 6, "type": "quantitative"}, "y": {"datum": "h2", "type": "nominal"}}},
     {"data": {"values": [{}]}, "mark": {"type": "text", "text": "Weight", "fontWeight": "bold", "align": "right"}, "encoding": {"x": {"datum": 7, "type": "quantitative"}, "y": {"datum": "h2", "type": "nominal"}}},
     {"data": {"values": [{}]}, "mark": {"type": "text", "text": "IV, Random, 95% CI", "fontWeight": "bold", "align": "right"}, "encoding": {"x": {"datum": 8.015, "type": "quantitative"}, "y": {"datum": "h2", "type": "nominal"}}}
    ]},
    {"layer": [
     {"transform": [{"filter": "datum.study === 'Total (95% CI)'"}], "mark": {"type": "rule", "color": "#333333", "strokeWidth": 1}, "encoding": {"x": {"datum": 0, "type": "quantitative", "scale": {"domain": [-1, 1], "range": [557, 873], "clamp": true, "nice": false, "zero": false}, "axis": {"orient": "bottom", "values": [-1, -0.5, 0, 0.5, 1], "labelExpr": "'' + datum.value", "labelFlush": true, "tickSize": 4, "labelPadding": 2, "title": null}}}},
     {"transform": [{"filter": "isValid(datum.est) && datum.study !== 'Total (95% CI)'"}], "mark": {"type": "rule", "color": "#333333", "strokeWidth": 1}, "encoding": {"x": {"field": "lo", "type": "quantitative"}, "x2": {"field": "hi"}, "y": {"field": "study", "type": "nominal"}}},
     {"transform": [{"filter": "isValid(datum.est) && datum.study !== 'Total (95% CI)'"}], "mark": {"type": "point", "shape": "square", "filled": true, "color": "#4cae4c", "opacity": 1}, "encoding": {"x": {"field": "est", "type": "quantitative"}, "y": {"field": "study", "type": "nominal"}, "size": {"field": "weight", "type": "quantitative", "scale": {"domain": [0, 1], "range": [0, 137]}, "legend": null}}},
     {"transform": [{"filter": "datum.study === 'Total (95% CI)'"}, {"fold": ["lo", "est", "hi"]}], "mark": {"type": "trail", "color": "#111111"}, "encoding": {"x": {"field": "value", "type": "quantitative"}, "y": {"field": "study", "type": "nominal"}, "order": {"field": "value", "type": "quantitative"}, "size": {"condition": {"test": "datum.key === 'est'", "value": 13.3}, "value": 0}}},
     {"data": {"values": [{}]}, "mark": {"type": "text", "text": "Mean Difference", "fontWeight": "bold", "align": "center"}, "encoding": {"x": {"datum": 0, "type": "quantitative"}, "y": {"datum": "h1", "type": "nominal"}}},
     {"data": {"values": [{}]}, "mark": {"type": "text", "text": "IV, Random, 95% CI", "fontWeight": "bold", "align": "center"}, "encoding": {"x": {"datum": 0, "type": "quantitative"}, "y": {"datum": "h2", "type": "nominal"}}}
    ]},
    {"data": {"values": [{}]}, "layer": [
     {"mark": {"type": "text", "text": "Favours [ILM peeling]", "align": "right", "dx": -6, "dy": 5.5}, "encoding": {"x": {"datum": 0, "type": "quantitative", "scale": {"domain": [-1, 1], "range": [557, 873], "nice": false, "zero": false}, "axis": {"orient": "bottom", "values": [-1, -0.5, 0, 0.5, 1], "labels": false, "domain": false, "tickSize": -4, "title": null}}, "y": {"datum": "Test for overall effect: Z = 0.44 (P = 0.66)", "type": "nominal"}}},
     {"mark": {"type": "text", "text": "Favours [ILM insertion]", "align": "left", "dx": 6, "dy": 5.5}, "encoding": {"x": {"datum": 0, "type": "quantitative"}, "y": {"datum": "Test for overall effect: Z = 0.44 (P = 0.66)", "type": "nominal"}}}
    ]}
   ]
  }
  ]
 }
 ]
}
]
}
